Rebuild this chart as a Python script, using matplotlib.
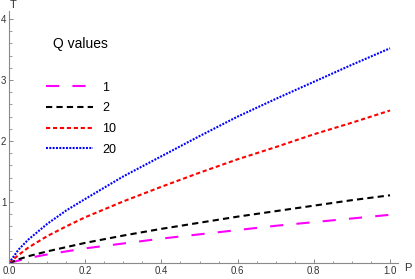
import matplotlib
matplotlib.use('Agg')
import matplotlib.pyplot as plt
from matplotlib.ticker import MultipleLocator, FormatStrFormatter

plt.rcParams['font.family'] = ['Liberation Sans', 'DejaVu Sans']
plt.rcParams['lines.scale_dashes'] = False

# values
P = [0.0, 0.025, 0.05, 0.1, 0.15, 0.2, 0.3, 0.4, 0.5, 0.6, 0.7, 0.8, 0.9, 1.0]
T_q20 = [0.0, 0.22, 0.38, 0.64, 0.86, 1.05, 1.42, 1.75, 2.08, 2.40, 2.69, 2.97, 3.25, 3.52]
T_q10 = [0.0, 0.13, 0.25, 0.44, 0.60, 0.75, 1.01, 1.25, 1.48, 1.70, 1.90, 2.11, 2.30, 2.50]
T_q2 = [0.0, 0.06, 0.11, 0.19, 0.26, 0.33, 0.45, 0.56, 0.66, 0.76, 0.85, 0.94, 1.03, 1.11]
T_q1 = [0.0, 0.04, 0.08, 0.14, 0.19, 0.24, 0.32, 0.40, 0.47, 0.54, 0.61, 0.67, 0.73, 0.79]

fig = plt.figure(figsize=(4.15, 2.79), dpi=100)
ax = fig.add_axes([9/415, 16/279, 389/415, 252/279])

ax.plot(P, T_q1, color='#ff00ff', lw=1.5, dashes=(9.5, 9.5), label='1')
ax.plot(P, T_q2, color='black', lw=1.5, dashes=(4.5, 3), label='2')
ax.plot(P, T_q10, color='#ff0000', lw=1.5, dashes=(3, 2), label='10')
ax.plot(P, T_q20, color='#0000ff', lw=1.5, dashes=(1.4, 1.0), label='20')

ax.set_xlim(0, 389/381)
ax.set_ylim(0, 252/61)

for s in ['top', 'right']:
    ax.spines[s].set_visible(False)
for s in ['left', 'bottom']:
    ax.spines[s].set_color('#8a8a8a')
    ax.spines[s].set_linewidth(0.8)

ax.xaxis.set_major_locator(MultipleLocator(0.2))
ax.xaxis.set_minor_locator(MultipleLocator(0.05))
ax.xaxis.set_major_formatter(FormatStrFormatter('%.1f'))
ax.yaxis.set_major_locator(MultipleLocator(1))
ax.yaxis.set_minor_locator(MultipleLocator(0.2))
ax.set_yticks([1, 2, 3, 4])
ax.tick_params(which='both', direction='in', color='#8a8a8a', labelsize=7,
               labelcolor='#333333', pad=2)
ax.tick_params(which='major', length=3.2, width=0.7)
ax.tick_params(which='minor', length=1.8, width=0.6)

ax.text(1.026, -0.02, 'P', transform=ax.transAxes, fontsize=8,
        color='#333333', ha='center', va='center')
ax.text(0.01, 1.005, 'T', transform=ax.transAxes, fontsize=8, color='#333333',
        ha='center', va='bottom')

ax.text(0.1825, 0.869, 'Q values', transform=ax.transAxes, fontsize=10,
        ha='center', va='center')
ax.legend(loc='upper left', bbox_to_anchor=(0.095, 0.72), frameon=False,
          fontsize=9, handlelength=3.8, handletextpad=0.7, labelspacing=0.7,
          borderpad=0, borderaxespad=0)

fig.savefig('out.png', dpi=100)
